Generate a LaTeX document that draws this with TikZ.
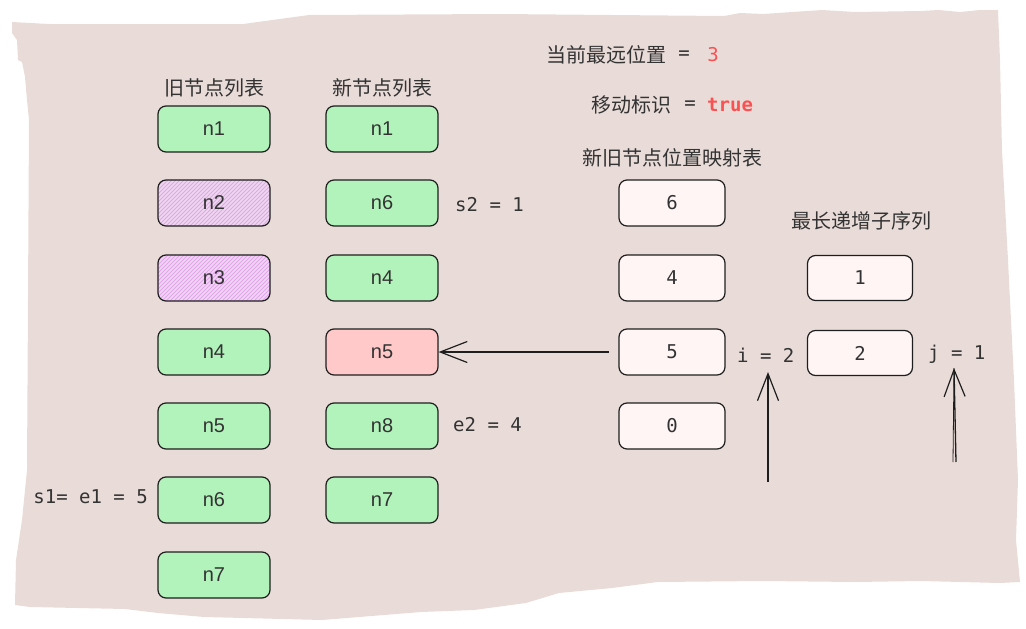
\documentclass[tikz,border=0pt]{standalone}
\usepackage{fontspec}
\setmainfont{Liberation Sans}
\newfontfamily\cjkf{Noto Sans CJK SC}
\newfontfamily\monof{DejaVu Sans Mono}
\usetikzlibrary{arrows.meta}
\definecolor{bgc}{HTML}{E9DCD8}
\definecolor{ink}{HTML}{1E1E1E}
\definecolor{txt}{HTML}{333333}
\definecolor{grn}{HTML}{B2F2BB}
\definecolor{pnk}{HTML}{FFC9C9}
\definecolor{wht}{HTML}{FFF5F5}
\definecolor{hbg}{HTML}{EED8EC}
\definecolor{hln}{HTML}{E3A2F2}
\definecolor{redt}{HTML}{FA5252}
\newcommand\fzs{\fontsize{19}{23}\selectfont}
\newcommand\fzt{\fontsize{20}{24}\selectfont}
\begin{document}
\begin{tikzpicture}[x=1pt,y=-1pt,
  box/.style={draw=ink, line width=1.2pt, rounded corners=8pt,
    minimum width=112pt, minimum height=46pt, inner sep=0pt,
    font=\fzt, text=txt},
  mapbox/.style={box, fill=wht, minimum width=106pt, font=\fzs\monof},
  gbox/.style={box, fill=grn},
  hbox/.style={box, fill=hbg, path picture={
      \foreach \k in {-56,-52,...,116}
        \draw[hln, line width=0.9pt] ([xshift=\k pt]path picture bounding box.south west) -- ++(56,-56);}},
  title/.style={font=\fzt\cjkf, text=txt, inner sep=0pt},
  lbl/.style={font=\fzs\monof, text=txt, inner sep=0pt},
  arr/.style={draw=ink, line width=1.3pt, -{Straight Barb[length=27pt,width=21pt,line width=1.2pt]}}
]
\useasboundingbox (0,0) rectangle (1026,629);
% torn paper background
\fill[bgc] (12,22) -- (49,24) -- (243,24) -- (309,15) -- (500,14) -- (724,16) -- (740,13) -- (763,14)
  -- (822,10) -- (855,12) -- (921,11) -- (938,10) -- (960,12) -- (980,10) -- (998,10)
  -- (1000,60) -- (1002,150) -- (1008,260) -- (1014,380) -- (1018,480) -- (1016,540) -- (1020,582)
  -- (1000,583) -- (921,581) -- (855,582) -- (763,581) -- (658,582) -- (612,588) -- (559,593)
  -- (526,603) -- (474,610) -- (421,612) -- (322,620) -- (204,617) -- (158,613) -- (125,609)
  -- (30,607) -- (15,605) -- (16,560) -- (22,520) -- (27,470) -- (28,300) -- (29,120) -- (27,100)
  -- (25,77) -- (22,62) -- (18,60) -- (17,40) -- (12,33) -- cycle;

% top texts
\node[title, anchor=west] (t1) at (546,55) {当前最远位置};
\node[lbl] (t1eq) at (684,55) {=};
\node[lbl, text=redt] (t1v) at (713,55) {3};
\node[title, anchor=west] (t2) at (591,105) {移动标识};
\node[lbl] (t2eq) at (690,105) {=};
\node[lbl, text=redt, font=\fzs\monof\bfseries, anchor=west] (t2v) at (707,105) {true};
\node[title] (t3) at (672,158) {新旧节点位置映射表};
\node[title] (t4) at (861,221) {最长递增子序列};
\node[title] (hold) at (214,88) {旧节点列表};
\node[title] (hnew) at (382,88) {新节点列表};

% old list
\node[gbox] (o1) at (214,129) {n1};
\node[hbox] (o2) at (214,203) {n2};
\node[hbox] (o3) at (214,278) {n3};
\node[gbox] (o4) at (214,352) {n4};
\node[gbox] (o5) at (214,426) {n5};
\node[gbox] (o6) at (214,500) {n6};
\node[gbox] (o7) at (214,575) {n7};

% new list
\node[gbox] (w1) at (382,129) {n1};
\node[gbox] (w6) at (382,203) {n6};
\node[gbox] (w4) at (382,278) {n4};
\node[box, fill=pnk] (w5) at (382,352) {n5};
\node[gbox] (w8) at (382,426) {n8};
\node[gbox] (w7) at (382,500) {n7};

% map
\node[mapbox] (m6) at (672,203) {6};
\node[mapbox] (m4) at (672,278) {4};
\node[mapbox] (m5) at (672,352) {5};
\node[mapbox] (m0) at (672,426) {0};

% LIS
\node[mapbox, minimum width=105pt, minimum height=45pt] (l1) at (860,278) {1};
\node[mapbox, minimum width=105pt, minimum height=45pt] (l2) at (860,353) {2};

% labels
\node[lbl, anchor=west] (s2) at (455,205) {s2 = 1};
\node[lbl, anchor=west] (e2) at (453,425) {e2 = 4};
\node[lbl, anchor=east] (s1) at (148,497) {s1= e1 = 5};
\node[lbl, anchor=west] (il) at (737,355) {i = 2};
\node[lbl, anchor=west] (jl) at (928,354) {j = 1};

% arrows
\coordinate (a1s) at (609,352);
\draw[arr] (a1s) -- (w5.east);
\coordinate (a2s) at (768,482);
\coordinate (a2e) at (768,372);
\draw[arr] (a2s) -- (a2e);
\coordinate (a3s) at (956,462);
\coordinate (a3e) at (954,368);
\coordinate (a3b) at (953,462);
\draw[arr] (a3s) -- (a3e);
\draw[draw=ink, line width=0.8pt] (a3b) -- (a3e);
\end{tikzpicture}
\end{document}
